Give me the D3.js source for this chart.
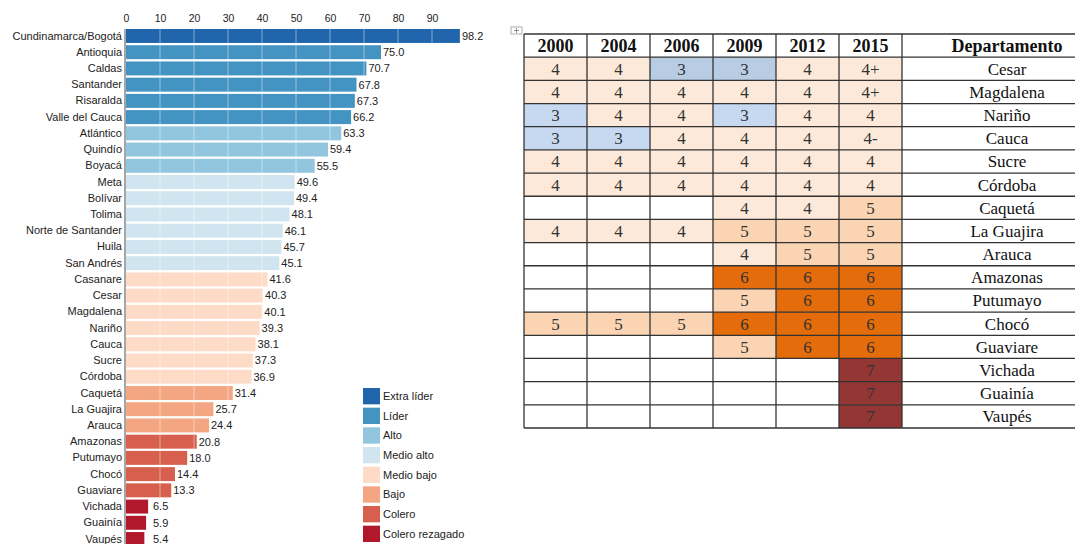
<!DOCTYPE html>
<html>
<head>
<meta charset="utf-8">
<script src="https://cdn.jsdelivr.net/npm/d3@7"></script>
<style>
  body { margin: 0; background: #fff; }
  svg { display: block; }
</style>
</head>
<body>
<div id="chart"></div>
<script>
// --- bar chart data (left panel)
const departamentos = ["Cundinamarca/Bogotá", "Antioquia", "Caldas", "Santander", "Risaralda",
  "Valle del Cauca", "Atlántico", "Quindío", "Boyacá", "Meta", "Bolívar", "Tolima",
  "Norte de Santander", "Huila", "San Andrés", "Casanare", "Cesar", "Magdalena", "Nariño",
  "Cauca", "Sucre", "Córdoba", "Caquetá", "La Guajira", "Arauca", "Amazonas", "Putumayo",
  "Chocó", "Guaviare", "Vichada", "Guainía", "Vaupés"];
const puntajes = [98.2, 75.0, 70.7, 67.8, 67.3, 66.2, 63.3, 59.4, 55.5, 49.6, 49.4, 48.1,
  46.1, 45.7, 45.1, 41.6, 40.3, 40.1, 39.3, 38.1, 37.3, 36.9, 31.4, 25.7, 24.4, 20.8, 18.0,
  14.4, 13.3, 6.5, 5.9, 5.4];
const grupos = ["Extra líder", "Líder", "Líder", "Líder", "Líder", "Líder", "Alto", "Alto", "Alto",
  "Medio alto", "Medio alto", "Medio alto", "Medio alto", "Medio alto", "Medio alto",
  "Medio bajo", "Medio bajo", "Medio bajo", "Medio bajo", "Medio bajo", "Medio bajo", "Medio bajo",
  "Bajo", "Bajo", "Bajo", "Colero", "Colero", "Colero", "Colero",
  "Colero rezagado", "Colero rezagado", "Colero rezagado"];
const categoriasLeyenda = ["Extra líder", "Líder", "Alto", "Medio alto", "Medio bajo", "Bajo", "Colero", "Colero rezagado"];
const ticksX = [0, 10, 20, 30, 40, 50, 60, 70, 80, 90];

// --- table data (right panel)
const anios = ["2000", "2004", "2006", "2009", "2012", "2015"];
const tablaDeptos = ["Cesar", "Magdalena", "Nariño", "Cauca", "Sucre", "Córdoba", "Caquetá",
  "La Guajira", "Arauca", "Amazonas", "Putumayo", "Chocó", "Guaviare", "Vichada", "Guainía", "Vaupés"];
const tablaValores = [
  ["4", "4", "3", "3", "4", "4+"],
  ["4", "4", "4", "4", "4", "4+"],
  ["3", "4", "4", "3", "4", "4"],
  ["3", "3", "4", "4", "4", "4-"],
  ["4", "4", "4", "4", "4", "4"],
  ["4", "4", "4", "4", "4", "4"],
  ["", "", "", "4", "4", "5"],
  ["4", "4", "4", "5", "5", "5"],
  ["", "", "", "4", "5", "5"],
  ["", "", "", "6", "6", "6"],
  ["", "", "", "5", "6", "6"],
  ["5", "5", "5", "6", "6", "6"],
  ["", "", "", "5", "6", "6"],
  ["", "", "", "", "", "7"],
  ["", "", "", "", "", "7"],
  ["", "", "", "", "", "7"]
];

const W = 1075, H = 544;
const sans = 'Liberation Sans, Arial, sans-serif';
const serif = 'Liberation Serif, Times New Roman, serif';

const svg = d3.select('#chart').append('svg')
  .attr('width', W).attr('height', H);

// ===== bar chart
const color = d3.scaleOrdinal()
  .domain(categoriasLeyenda)
  .range(["#2166ac", "#4393c3", "#92c5de", "#d1e5f0", "#fddbc7", "#f4a582", "#d6604d", "#b2182b"]);

const x = d3.scaleLinear().domain([0, 100]).range([126, 466]);
const y = d3.scaleBand().domain(departamentos).range([29, 546]).paddingInner(0.14);

svg.append('g').selectAll('rect')
  .data(departamentos)
  .enter().append('rect')
  .attr('x', x(0))
  .attr('y', d => y(d))
  .attr('width', (d, i) => x(puntajes[i]) - x(0))
  .attr('height', y.bandwidth())
  .attr('fill', (d, i) => color(grupos[i]));

// white grid lines only over the bars
const gridClip = svg.append('defs').append('clipPath').attr('id', 'barclip');
gridClip.selectAll('rect')
  .data(departamentos)
  .enter().append('rect')
  .attr('x', x(0))
  .attr('y', d => y(d))
  .attr('width', (d, i) => x(puntajes[i]) - x(0))
  .attr('height', y.bandwidth());
svg.append('g').attr('clip-path', 'url(#barclip)')
  .selectAll('line')
  .data(ticksX.slice(1))
  .enter().append('line')
  .attr('x1', d => x(d)).attr('x2', d => x(d))
  .attr('y1', 25).attr('y2', H)
  .attr('stroke', '#fff').attr('stroke-opacity', 0.45);

// top axis
const axisTop = svg.append('g')
  .attr('transform', 'translate(0,26)')
  .call(d3.axisTop(x).tickValues(ticksX).tickSize(0).tickPadding(4));
axisTop.select('.domain').remove();
axisTop.selectAll('text')
  .attr('font-family', sans).attr('font-size', 10.5).attr('fill', '#222');

// left axis (category names)
const axisLeft = svg.append('g')
  .attr('transform', `translate(${x(0) - 1},0)`)
  .call(d3.axisLeft(y).tickSize(0).tickPadding(3));
axisLeft.select('.domain')
  .attr('stroke', '#888').attr('stroke-width', 1.5)
  .attr('d', `M0,${y.range()[0]}V${H}`);
axisLeft.selectAll('text')
  .attr('font-family', sans).attr('font-size', 11).attr('fill', '#222');

// value labels
svg.append('g').selectAll('text')
  .data(departamentos)
  .enter().append('text')
  .attr('x', (d, i) => Math.max(x(puntajes[i]) + 2, 153))
  .attr('y', d => y(d) + y.bandwidth() / 2)
  .attr('dy', '0.35em')
  .attr('font-family', sans).attr('font-size', 11).attr('fill', '#222')
  .text((d, i) => puntajes[i].toFixed(1));

// legend
const ly = d3.scaleBand().domain(categoriasLeyenda).range([388, 542]).paddingInner(0.17);
const legend = svg.append('g');
legend.selectAll('rect')
  .data(categoriasLeyenda)
  .enter().append('rect')
  .attr('x', 363).attr('y', d => ly(d))
  .attr('width', 17).attr('height', ly.bandwidth())
  .attr('fill', d => color(d));
legend.selectAll('text')
  .data(categoriasLeyenda)
  .enter().append('text')
  .attr('x', 383).attr('y', d => ly(d) + ly.bandwidth() / 2)
  .attr('dy', '0.35em')
  .attr('font-family', sans).attr('font-size', 11).attr('fill', '#222')
  .text(d => d);

// ===== table
const cellColor = d3.scaleOrdinal()
  .domain(["3", "4", "4+", "4-", "5", "6", "7", ""])
  .range(["#c6d9f1", "#fde9d9", "#fde9d9", "#fde9d9", "#fbd4b4", "#e46c0a", "#943634", "#ffffff"]);

const colX = d3.scaleBand().domain(anios).range([524, 902]);
const rowY = d3.scaleBand().domain(["head"].concat(tablaDeptos)).range([34, 428]);
const deptW = 210;
const deptX = colX.range()[1] + deptW / 2;
const tbl = svg.append('g');

// header
tbl.selectAll('.hdr')
  .data(anios.concat(["Departamento"]))
  .enter().append('text')
  .attr('x', d => d === "Departamento" ? deptX : colX(d) + colX.bandwidth() / 2)
  .attr('y', rowY("head") + rowY.bandwidth() / 2)
  .attr('dy', '0.35em').attr('text-anchor', 'middle')
  .attr('font-family', serif)
  .attr('font-size', 18).attr('font-weight', 'bold').attr('fill', '#111')
  .text(d => d);

// body cells
tbl.selectAll('.fila')
  .data(tablaDeptos)
  .enter().append('g')
  .each(function (dep, r) {
    const g = d3.select(this);
    g.selectAll('rect')
      .data(tablaValores[r])
      .enter().append('rect')
      .attr('x', (v, c) => colX(anios[c]))
      .attr('y', rowY(dep))
      .attr('width', colX.bandwidth())
      .attr('height', rowY.bandwidth())
      .attr('fill', v => (dep === "Cesar" && v === "3") ? "#b8cce4" : cellColor(v));
    g.selectAll('text')
      .data(tablaValores[r])
      .enter().append('text')
      .attr('x', (v, c) => colX(anios[c]) + colX.bandwidth() / 2)
      .attr('y', rowY(dep) + rowY.bandwidth() / 2)
      .attr('dy', '0.35em').attr('text-anchor', 'middle')
      .attr('font-family', serif)
      .attr('font-size', 17).attr('fill', '#333')
      .text(v => v);
    g.append('text')
      .attr('x', deptX)
      .attr('y', rowY(dep) + rowY.bandwidth() / 2)
      .attr('dy', '0.35em').attr('text-anchor', 'middle')
      .attr('font-family', serif)
      .attr('font-size', 17).attr('fill', '#111')
      .text(dep);
  });

// table rules
tbl.selectAll('.hl')
  .data(rowY.domain().concat(["end"]))
  .enter().append('line')
  .attr('x1', colX.range()[0]).attr('x2', colX.range()[1] + deptW)
  .attr('y1', d => d === "end" ? rowY.range()[1] : rowY(d))
  .attr('y2', d => d === "end" ? rowY.range()[1] : rowY(d))
  .attr('stroke', '#333').attr('stroke-width', 1.3);
tbl.selectAll('.vl')
  .data(anios.concat(["dep"]))
  .enter().append('line')
  .attr('x1', d => d === "dep" ? colX.range()[1] : colX(d))
  .attr('x2', d => d === "dep" ? colX.range()[1] : colX(d))
  .attr('y1', rowY.range()[0]).attr('y2', rowY.range()[1])
  .attr('stroke', '#333').attr('stroke-width', 1.3);

// little table handle of the word processor
const handle = svg.append('g').attr('transform', 'translate(511,27)');
handle.append('rect').attr('width', 11).attr('height', 7)
  .attr('fill', '#fff').attr('stroke', '#999').attr('stroke-width', 0.8);
handle.append('path').attr('d', 'M5.5,1V6M3,3.5H8')
  .attr('stroke', '#777').attr('stroke-width', 0.8);
</script>
</body>
</html>
